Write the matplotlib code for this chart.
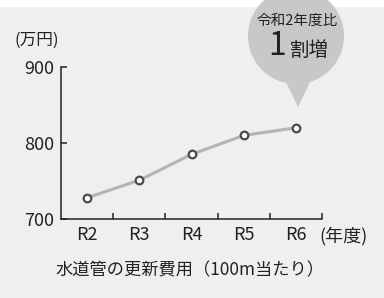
import matplotlib.pyplot as plt
from matplotlib.patches import Rectangle, Circle, Polygon

plt.rcParams['font.family'] = ['Noto Sans CJK JP', 'DejaVu Sans']

# data
years = ["R2", "R3", "R4", "R5", "R6"]
cost = [728, 751, 785, 810, 820]
y_ticks = [700, 800, 900]

bg = "#eeefef"
dark = "#222222"

fig = plt.figure(figsize=(3.84, 2.98), dpi=100, facecolor="white")
# gray panel below the thin white strip on top
fig.patches.append(Rectangle((0, 0), 1, 1 - 7 / 298, transform=fig.transFigure,
                             facecolor=bg, edgecolor="none", zorder=-1))

ax = fig.add_axes([61 / 384, 79 / 298, 261 / 384, 152 / 298])
ax.set_facecolor("none")

xpos = [i + 0.5 for i in range(len(years))]
ax.plot(xpos, cost, color="#b4b4b4", lw=2.2, zorder=2, solid_capstyle="round")
ax.plot(xpos, cost, "o", ms=5.5, mfc="white", mec="#4a4a4a", mew=1.6, zorder=3)

ax.set_xlim(0, len(years))
ax.set_ylim(700, 900)
for s in ["top", "right"]:
    ax.spines[s].set_visible(False)
for s in ["left", "bottom"]:
    ax.spines[s].set_color(dark)
    ax.spines[s].set_linewidth(1.1)

ax.set_yticks(y_ticks)
ax.set_yticklabels([str(v) for v in y_ticks], fontsize=13, color=dark)
ax.tick_params(axis="y", direction="in", length=4, width=1.1, color=dark, pad=5)

ax.set_xticks(xpos)
ax.set_xticklabels(years, fontsize=13, color=dark)
ax.tick_params(axis="x", length=0, pad=5)
ax.set_xticks(range(1, len(years) + 1), minor=True)
ax.tick_params(axis="x", which="minor", direction="in", length=4, width=1.1, color=dark)

fig.text(319 / 384, 1 - 236 / 298, "(年度)", fontsize=13, color=dark,
         ha="left", va="center")
fig.text(14 / 384, 1 - 40 / 298, "(万円)", fontsize=12, color=dark, ha="left", va="center")
fig.text(190 / 384, 1 - 270 / 298, "水道管の更新費用（100m当たり）", fontsize=12.4,
         color=dark, ha="center", va="center")

# speech bubble callout
ov = fig.add_axes([0, 0, 1, 1])
ov.set_xlim(0, 384)
ov.set_ylim(298, 0)
ov.axis("off")
bubble = "#c8c8c8"
ov.add_patch(Circle((296, 36), 48, facecolor=bubble, edgecolor="none"))
ov.add_patch(Polygon([(284, 78), (312, 78), (298, 107)], closed=True,
                     facecolor=bubble, edgecolor="none"))
ov.text(297, 21, "令和2年度比", fontsize=10.5, color=dark, ha="center", va="center")
ov.text(277, 46, "1", fontsize=23, color=dark, ha="center", va="center")
ov.text(309, 50, "割増", fontsize=14, color=dark, ha="center", va="center")

fig.savefig("out.png", dpi=100, facecolor=fig.get_facecolor())
